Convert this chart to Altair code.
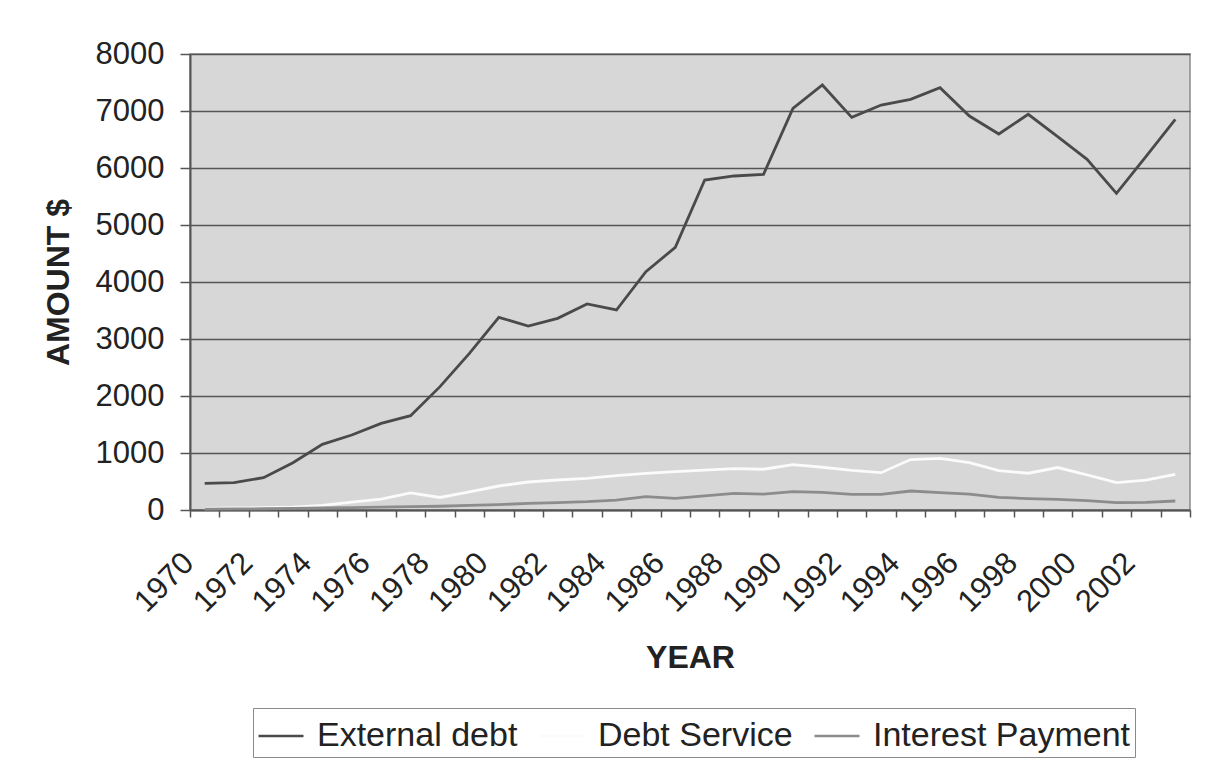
import altair as alt
import pandas as pd

years = list(range(1970, 2004))
external_debt = [468, 480, 567, 830, 1152, 1316, 1520, 1655, 2164, 2749,
                 3380, 3228, 3363, 3614, 3509, 4181, 4608,
                 5789, 5860, 5889, 7047, 7456, 6889, 7105, 7205, 7409,
                 6912, 6596, 6942, 6550, 6152, 5556, 6199, 6854]
debt_service = [30, 35, 40, 50, 80, 140, 190, 300, 220, 320,
                421, 491, 526, 556, 602, 643, 673,
                700, 725, 715, 795, 750, 695, 655, 885, 905,
                830, 690, 645, 745, 615, 480, 525, 625]
interest_payment = [15, 18, 22, 28, 35, 42, 50, 58, 66, 82,
                    94, 117, 129, 146, 175, 234, 205,
                    246, 292, 280, 322, 310, 275, 275, 333, 304,
                    280, 222, 199, 187, 164, 129, 135, 158]

series_names = ["External debt", "Debt Service", "Interest Payment"]
series_colors = ["#4a4a4a", "#fbfbfb", "#8c8c8c"]

rows = []
for name, vals in zip(series_names, [external_debt, debt_service, interest_payment]):
    for y, v in zip(years, vals):
        rows.append({"year": y, "value": v, "series": name})
df = pd.DataFrame(rows)

FONT = "Liberation Sans"

chart = alt.Chart(df).mark_line(strokeWidth=2.8).encode(
    x=alt.X(
        "year:O",
        scale=alt.Scale(type="band", paddingInner=0, paddingOuter=0),
        bandPosition=0.5,
        axis=alt.Axis(
            title="YEAR",
            tickBand="extent",
            labelExpr="datum.value % 2 == 0 ? datum.label : ''",
            labelAngle=315,
            labelAlign="right",
            labelBaseline="middle",
            labelOffset=-16,
            labelPadding=41,
            labelOverlap=False,
            labelFontSize=31,
            labelFont=FONT,
            labelColor="#222222",
            tickSize=7,
            tickColor="#555555",
            tickWidth=1.5,
            domainColor="#555555",
            domainWidth=2,
            grid=False,
            titleFont=FONT,
            titleFontSize=32,
            titleFontWeight="bold",
            titleColor="#222222",
            titleBaseline="alphabetic",
            titleAlign="center",
            titleX=500,
            titleY=157,
        ),
    ),
    y=alt.Y(
        "value:Q",
        scale=alt.Scale(domain=[0, 8000], nice=False),
        axis=alt.Axis(
            title="AMOUNT $",
            values=list(range(0, 8001, 1000)),
            format="d",
            labelFontSize=31,
            labelFont=FONT,
            labelColor="#222222",
            labelPadding=16,
            tickSize=10,
            tickColor="#555555",
            tickWidth=1.5,
            domainColor="#555555",
            domainWidth=2,
            grid=True,
            gridColor="#555555",
            gridWidth=1.5,
            titleFont=FONT,
            titleFontSize=32,
            titleFontWeight="bold",
            titleColor="#222222",
            titleAngle=270,
            titleBaseline="alphabetic",
            titleAlign="center",
            titleX=-122,
            titleY=228,
        ),
    ),
    color=alt.Color(
        "series:N",
        scale=alt.Scale(domain=series_names, range=series_colors),
        sort=series_names,
        legend=alt.Legend(
            title=None,
            orient="none",
            legendX=63,
            legendY=654,
            direction="horizontal",
            symbolType="stroke",
            symbolSize=2025,
            symbolStrokeWidth=2.5,
            labelFont=FONT,
            labelFontSize=34,
            labelColor="#222222",
            labelLimit=0,
            labelOffset=12,
            columnPadding=16,
            padding=4,
            strokeColor="#8a8a8a",
            fillColor="#ffffff",
        ),
    ),
).properties(
    width=1000,
    height=456,
    background="#ffffff",
    autosize=alt.AutoSizeParams(type="none"),
    padding={"left": 190, "top": 54, "right": 24, "bottom": 252},
).configure_view(
    fill="#d7d7d7",
    stroke="#8a8a8a",
    strokeWidth=1.5,
)

chart.save("out.html", embed_options={"renderer": "svg", "actions": False})
